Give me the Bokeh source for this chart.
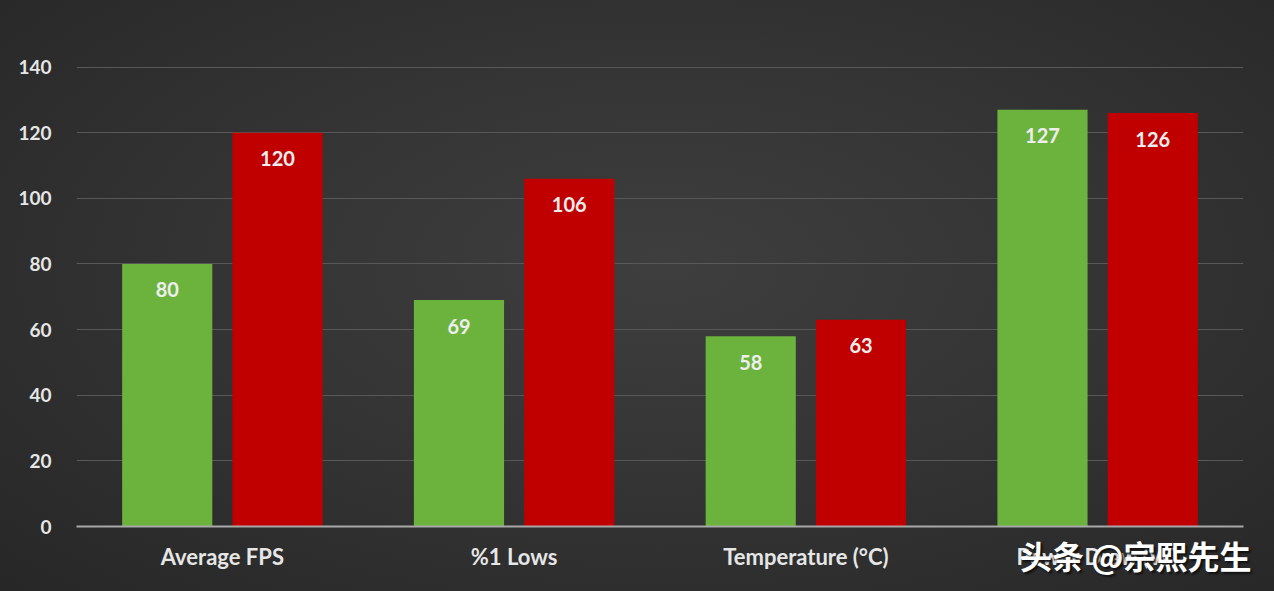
from bokeh.plotting import figure
from bokeh.models import ColumnDataSource, FactorRange, Range1d, FixedTicker
from bokeh.core.properties import value
from bokeh.transform import dodge
from bokeh.embed import file_html
from bokeh.resources import INLINE

categories = ["Average FPS", "%1 Lows", "Temperature (°C)", "Power Draw (W)"]
green_values = [80, 69, 58, 127]
red_values = [120, 106, 63, 126]
y_ticks = [0, 20, 40, 60, 80, 100, 120, 140]
watermark = "头条 @宗熙先生"

FONT = "Lato"

src = ColumnDataSource(dict(
    cat=categories,
    green=green_values,
    red=red_values,
    green_lbl=[str(v) for v in green_values],
    red_lbl=[str(v) for v in red_values],
))

p = figure(width=1274, height=591, output_backend="svg", toolbar_location=None,
           x_range=FactorRange(*categories, range_padding=0),
           y_range=Range1d(0, 154.2),
           min_border_left=76, min_border_right=31, min_border_top=20, min_border_bottom=65)
p.background_fill_color = None
p.border_fill_color = None
p.outline_line_color = None

p.vbar(x=dodge("cat", -0.189, range=p.x_range), top="green", width=0.309, source=src,
       fill_color="#6cb33e", line_color=None)
p.vbar(x=dodge("cat", 0.189, range=p.x_range), top="red", width=0.309, source=src,
       fill_color="#c00000", line_color=None)

for col, top, off in (("green_lbl", "green", -0.189), ("red_lbl", "red", 0.189)):
    p.text(x=dodge("cat", off, range=p.x_range), y=top, text=col, source=src,
           text_align="center", text_baseline="middle", y_offset=26,
           text_font=value(FONT), text_font_style="bold", text_font_size="20px",
           text_color="#eeeeee")

p.xgrid.grid_line_color = None
p.ygrid.grid_line_color = "#585858"
p.ygrid.grid_line_width = 1
p.yaxis.ticker = FixedTicker(ticks=y_ticks)
p.yaxis.axis_line_color = None
p.yaxis.major_tick_line_color = None
p.yaxis.minor_tick_line_color = None
p.yaxis.major_label_standoff = 19
p.yaxis.major_label_text_font = FONT
p.yaxis.major_label_text_font_style = "bold"
p.yaxis.major_label_text_font_size = "19px"
p.yaxis.major_label_text_color = "#e6e6e6"

p.xaxis.axis_line_color = "#a8a8a8"
p.xaxis.axis_line_width = 2
p.xaxis.major_tick_line_color = None
p.xaxis.minor_tick_line_color = None
p.xaxis.major_label_standoff = 10
p.xaxis.major_label_text_font = FONT
p.xaxis.major_label_text_font_style = "bold"
p.xaxis.major_label_text_font_size = "22px"
p.xaxis.major_label_text_color = "#e6e6e6"

html = file_html(p, INLINE)
css = ("<style>html,body{margin:0;padding:0;"
       "background:radial-gradient(ellipse 75% 80% at 52% 45%, #3e3e3e 0%, #343434 45%, #262626 100%);}"
       ".wm{position:absolute;left:1020px;top:535px;z-index:10;white-space:nowrap;"
       "font-family:'Noto Sans CJK SC';font-weight:bold;font-size:32px;line-height:40px;color:#ffffff;"
       "text-shadow:2px 2px 2px #111111;}"
       "</style></head>")
html = html.replace("</head>", css, 1)
html = html.replace("</body>", '<div class="wm">' + watermark + "</div></body>", 1)
open("out.html", "w").write(html)
